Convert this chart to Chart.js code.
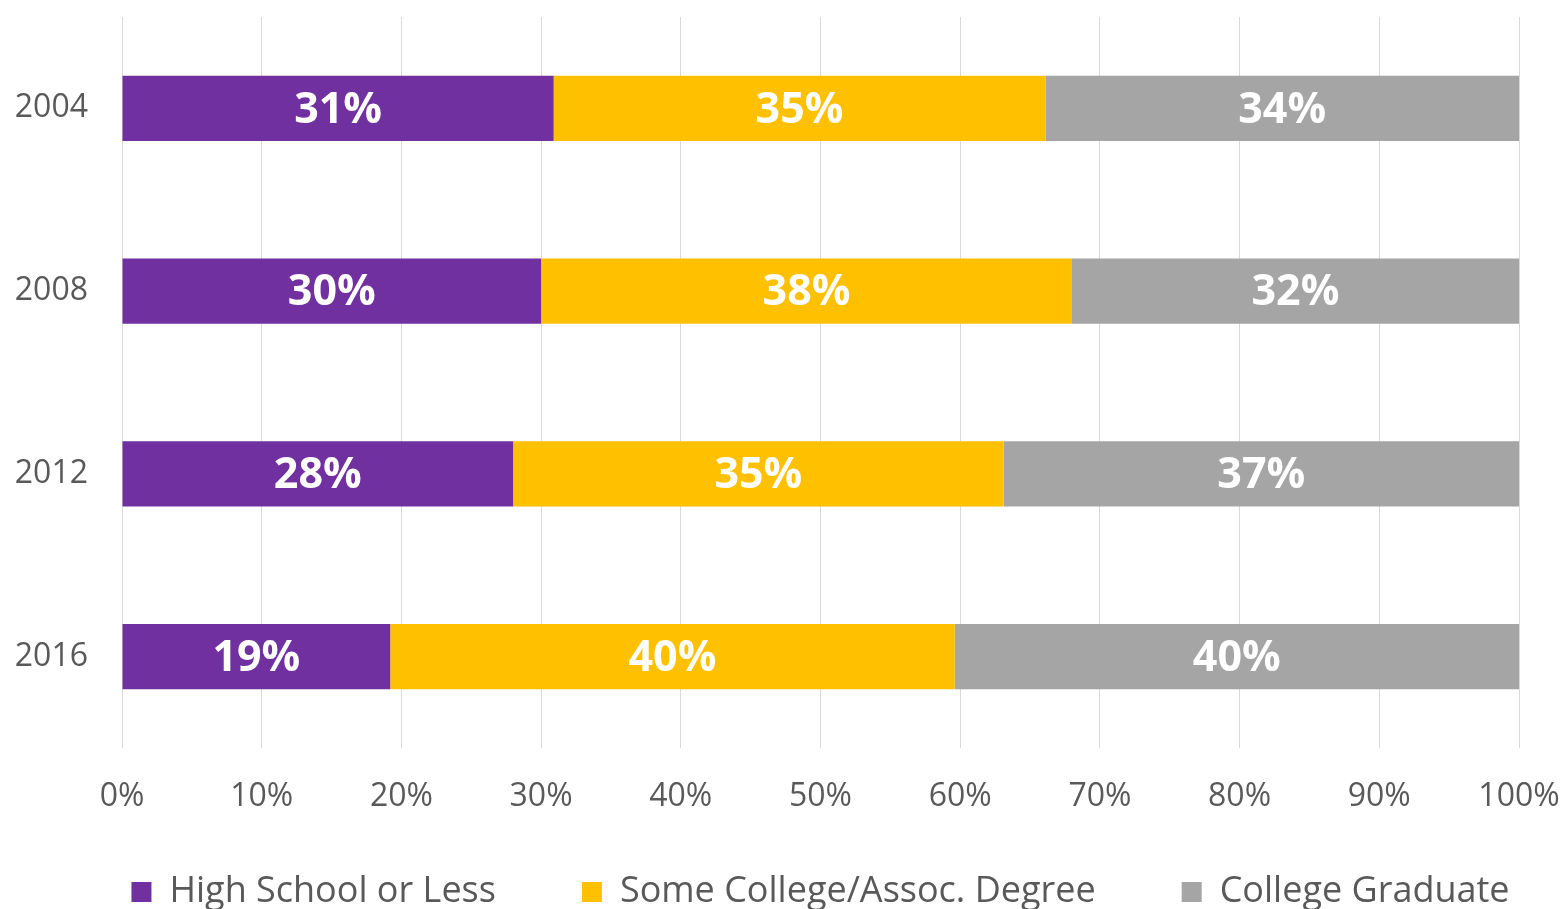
<!DOCTYPE html>
<html>
<head>
<meta charset="utf-8">
<script src="https://cdn.jsdelivr.net/npm/chart.js@4.4.0/dist/chart.umd.min.js"></script>
<style>
    html, body { margin: 0; padding: 0; background: #fff; }
    #wrap { width: 1564px; height: 909px; position: relative; }
</style>
</head>
<body>
<div id="wrap"><canvas id="Chart"></canvas></div>
<script>
const years = ['2004', '2008', '2012', '2016'];
const highSchool = [30.9, 30.0, 28.0, 19.2];
const someCollege = [35.2, 38.0, 35.1, 40.4];
const collegeGrad = [33.9, 32.0, 36.9, 40.4];
const xTicks = [0, 10, 20, 30, 40, 50, 60, 70, 80, 90, 100];

const FONT = '"Open Sans", "Noto Sans", sans-serif';

// white labels centred on each bar piece
const barLabels = {
    id: 'barLabels',
    afterDatasetsDraw(chart) {
        const ctx = chart.ctx;
        ctx.save();
        ctx.fillStyle = '#ffffff';
        ctx.font = 'bold 43px ' + FONT;
        ctx.textAlign = 'center';
        ctx.textBaseline = 'middle';
        chart.data.datasets.forEach((ds, i) => {
            chart.getDatasetMeta(i).data.forEach((bar, j) => {
                const p = bar.getProps(['x', 'y', 'base'], true);
                ctx.fillText(Math.round(ds.data[j]) + '%', (p.x + p.base) / 2, p.y + 2);
            });
        });
        ctx.restore();
    }
};

var ctx = document.getElementById('Chart').getContext('2d');
var chart = new Chart(ctx, {
    type: 'bar',
    data: {
        labels: years,
        datasets: [{
            label: 'High School or Less',
            backgroundColor: '#7030A0',
            data: highSchool
        }, {
            label: 'Some College/Assoc. Degree',
            backgroundColor: '#FFC000',
            data: someCollege
        }, {
            label: 'College Graduate',
            backgroundColor: '#A5A5A5',
            data: collegeGrad
        }]
    },
    options: {
        indexAxis: 'y',
        responsive: true,
        maintainAspectRatio: false,
        animation: false,
        barPercentage: 0.356,
        categoryPercentage: 1,
        // legend text sits on the very bottom edge, like the original
        layout: { padding: { top: 17, right: 45, left: 0, bottom: -11 } },
        scales: {
            x: {
                stacked: true,
                min: 0,
                max: 100,
                afterBuildTicks: (axis) => { axis.ticks = xTicks.map(v => ({ value: v })); },
                grid: { color: '#d9d9d9', lineWidth: 1, tickLength: 30, tickColor: 'transparent' },
                border: { display: false },
                ticks: {
                    callback: (v) => v + '%',
                    color: '#595959',
                    font: { family: FONT, size: 32 },
                    padding: 0,
                    maxRotation: 0
                },
                afterFit: (axis) => { axis.height = 124; }
            },
            y: {
                stacked: true,
                grid: { display: true, drawOnChartArea: false, tickLength: 34, tickColor: 'transparent' },
                border: { display: false },
                ticks: {
                    color: '#595959',
                    font: { family: FONT, size: 32, lineHeight: 1 },
                    padding: 0
                },
                afterFit: (axis) => { axis.width = 122; }
            }
        },
        plugins: {
            legend: {
                position: 'bottom',
                fullSize: false,
                labels: {
                    color: '#595959',
                    font: { family: FONT, size: 36 },
                    boxWidth: 20,
                    boxHeight: 20,
                    padding: 2,
                    // wider gap between the legend entries
                    generateLabels: (chart) => {
                        const items = Chart.defaults.plugins.legend.labels.generateLabels(chart);
                        items.forEach((item, i) => {
                            if (i < items.length - 1) item.text += '\u2003\u2003\u2004';
                        });
                        return items;
                    }
                }
            },
            tooltip: { enabled: false }
        }
    },
    plugins: [barLabels]
});
</script>
</body>
</html>
